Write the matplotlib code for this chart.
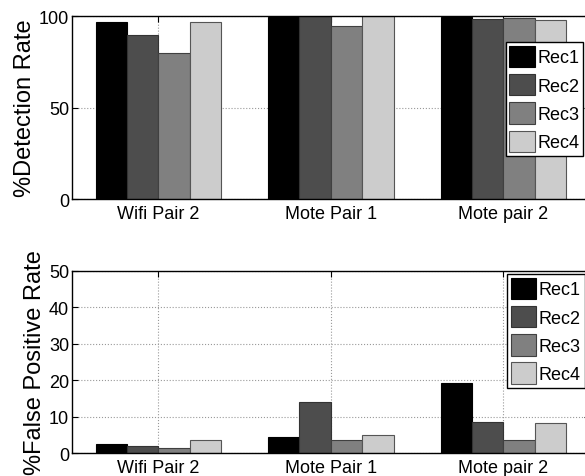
import matplotlib
matplotlib.use("Agg")
import matplotlib.pyplot as plt
import numpy as np

plt.rcParams["font.family"] = ["Liberation Sans", "DejaVu Sans"]

groups = ["Wifi Pair 2", "Mote Pair 1", "Mote pair 2"]
receivers = ["Rec1", "Rec2", "Rec3", "Rec4"]

# rows: groups, columns: receivers
detection = [
    [96.5, 89.5, 80.0, 96.5],
    [99.5, 100.0, 94.5, 100.0],
    [99.5, 98.5, 99.0, 98.0],
]
false_pos = [
    [2.5, 1.8, 1.5, 3.5],
    [4.4, 14.1, 3.7, 5.0],
    [19.2, 8.5, 3.6, 8.3],
]

colors = ["#000000", "#4d4d4d", "#808080", "#cccccc"]
edges = ["#000000", "#333333", "#404040", "#555555"]


def grouped_bars(ax, data, ymax, yticks, ylabel):
    data = np.array(data)
    x = np.arange(1, len(groups) + 1)
    group_w = 4 / (4 + 1.5)
    w = group_w / 4
    for i, rec in enumerate(receivers):
        ax.bar(x - group_w / 2 + w * (i + 0.5), data[:, i], width=w,
               color=colors[i], edgecolor=edges[i], linewidth=0.8, label=rec)
    ax.set_xlim(0.5, 3.5)
    ax.set_ylim(0, ymax)
    ax.set_xticks(x)
    ax.set_xticklabels(groups, fontsize=13)
    ax.set_yticks(yticks)
    ax.tick_params(axis="y", labelsize=13, pad=2)
    ax.tick_params(axis="x", pad=4)
    ax.tick_params(direction="in", length=4, top=True, right=True)
    ax.set_axisbelow(True)
    ax.grid(True, linestyle=":", color="#999999", linewidth=0.8)
    ax.set_ylabel(ylabel, fontsize=17, labelpad=2)
    for s in ax.spines.values():
        s.set_linewidth(1.0)
    leg = ax.legend(loc="upper right", fontsize=13, fancybox=False,
                    edgecolor="black", framealpha=1, borderpad=0.2,
                    handlelength=1.4, handleheight=1.45, handletextpad=0.15,
                    labelspacing=0.38, borderaxespad=0.0)
    leg.get_frame().set_linewidth(1.0)
    return leg


fig = plt.figure(figsize=(5.85, 4.77), dpi=100)
ax1 = fig.add_axes([0.1231, 0.5807, 0.885, 0.3836])
ax2 = fig.add_axes([0.1231, 0.0482, 0.885, 0.3822])

leg1 = grouped_bars(ax1, detection, 100, [0, 50, 100], "%Detection Rate")
leg1.set_bbox_to_anchor((0.987, 0.858), transform=ax1.transAxes)
leg2 = grouped_bars(ax2, false_pos, 50, [0, 10, 20, 30, 40, 50], "%False Positive Rate")
leg2.set_bbox_to_anchor((0.99, 0.982), transform=ax2.transAxes)

fig.savefig("out.png", dpi=100)
